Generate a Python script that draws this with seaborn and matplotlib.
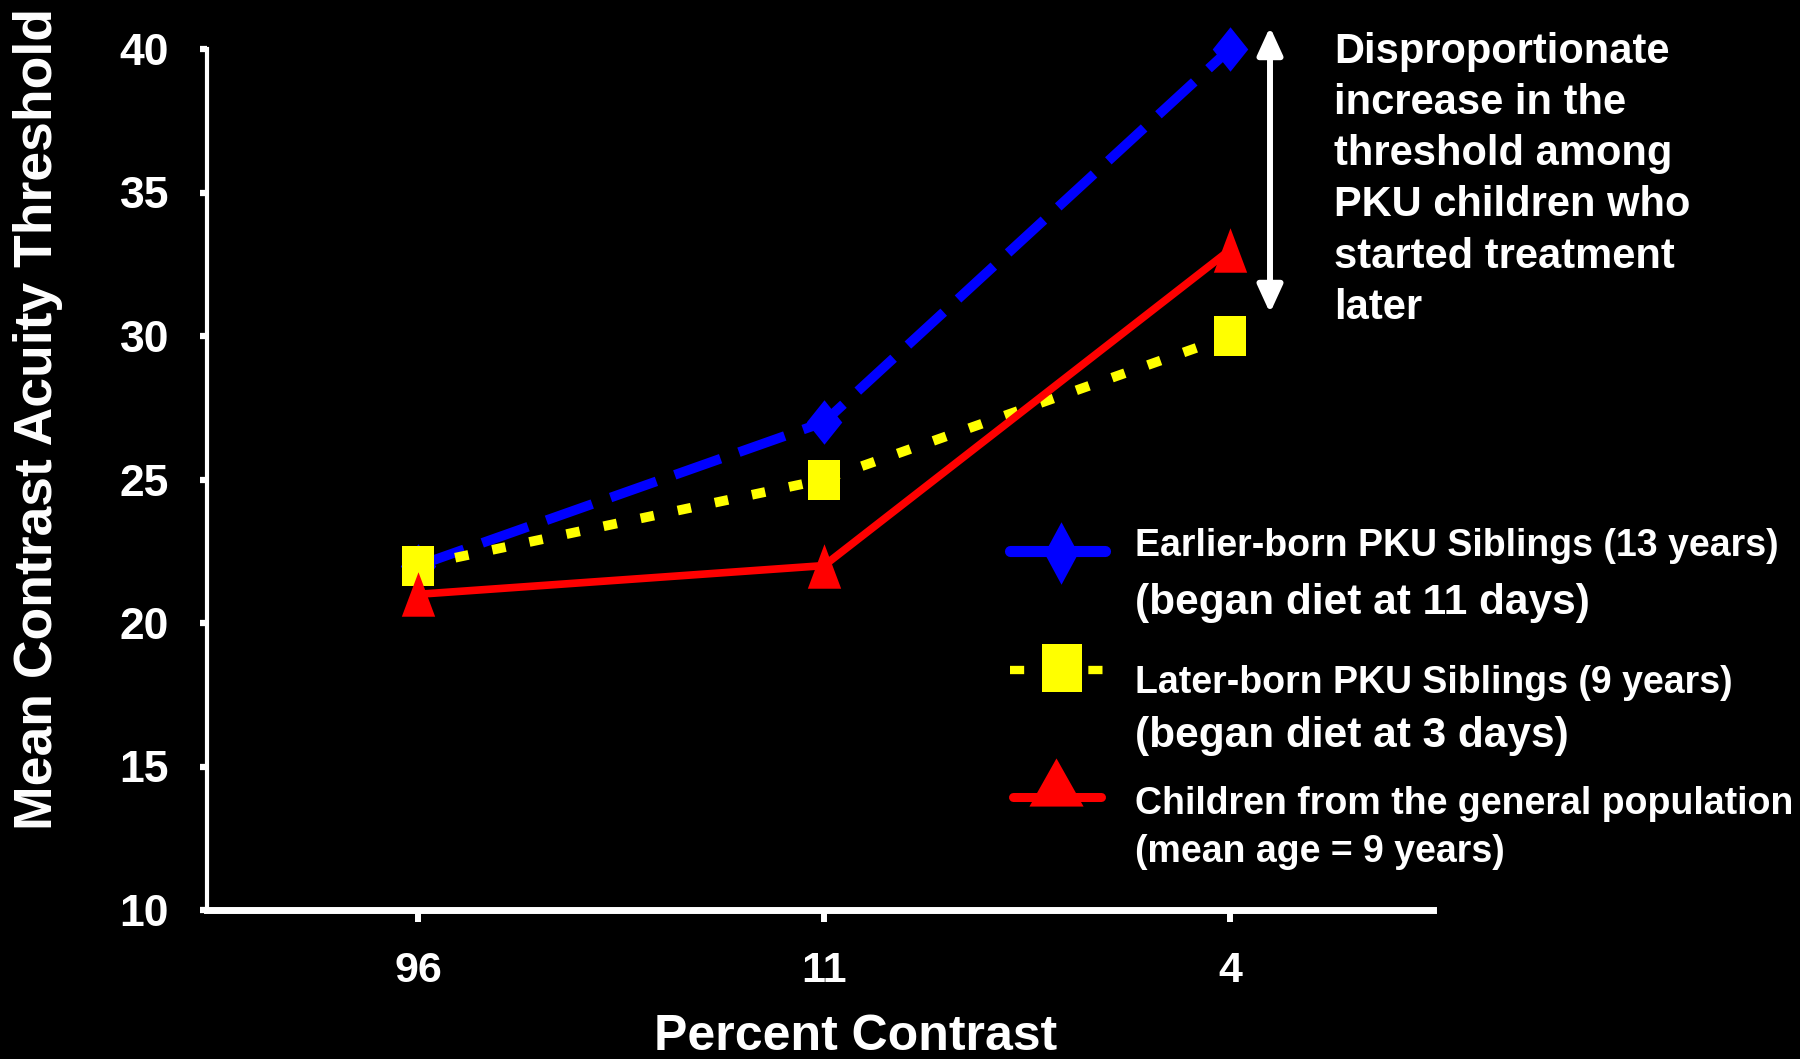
import numpy as np
import pandas as pd
import matplotlib
matplotlib.use("Agg")
import matplotlib.pyplot as plt
from matplotlib.lines import Line2D
from matplotlib.path import Path
import seaborn as sns

# ---- data -------------------------------------------------------------
contrast_labels = ["96", "11", "4"]
earlier_born = [22, 27, 40]   # Earlier-born PKU siblings
later_born = [22, 25, 30]     # Later-born PKU siblings
general_pop = [21, 22, 33]    # Children from the general population

y_ticks = [10, 15, 20, 25, 30, 35, 40]

legend_first = [
    "Earlier-born PKU Siblings (13 years)",
    "Later-born PKU Siblings (9 years)",
    "Children from the general population",
]
legend_second = [
    "(began diet at 11 days)",
    "(began diet at 3 days)",
    "(mean age = 9 years)",
]
note = ("Disproportionate\nincrease in the\nthreshold among\n"
        "PKU children who\nstarted treatment\nlater")

BLUE, YELLOW, RED = "#0000FF", "#FFFF00", "#FF0000"

# ---- style ------------------------------------------------------------
sns.set_theme(style="ticks", rc={
    "figure.facecolor": "black",
    "axes.facecolor": "black",
    "axes.edgecolor": "white",
    "text.color": "white",
    "axes.labelcolor": "white",
    "xtick.color": "white",
    "ytick.color": "white",
})
plt.rcParams["font.family"] = ["Liberation Sans", "DejaVu Sans"]
plt.rcParams["font.weight"] = "bold"
plt.rcParams["axes.labelweight"] = "bold"

W, H = 1800, 1059


def fx(px):
    return px / W


def fy(py):
    return 1 - py / H


def shape(verts):
    return Path(verts + [verts[0]], closed=True)


diamond = shape([(0, 1), (0.8, 0), (0, -1), (-0.8, 0)])
rect = shape([(-0.8, -1), (0.8, -1), (0.8, 1), (-0.8, 1)])
tri = shape([(0, 1), (0.75, -1), (-0.75, -1)])

fig = plt.figure(figsize=(18, 10.59), dpi=100)
ax = fig.add_axes([fx(207), fy(910), (1433 - 207) / W, (910 - 49) / H])

x = np.arange(len(contrast_labels))
frame = pd.DataFrame({
    "contrast": x,
    "earlier": earlier_born,
    "later": later_born,
    "general": general_pop,
})

sns.lineplot(data=frame, x="contrast", y="earlier", ax=ax, errorbar=None,
             color=BLUE, linewidth=7, linestyle=(0, (5, 2)),
             marker=diamond, markersize=32, markeredgewidth=0,
             clip_on=False, zorder=3)
sns.lineplot(data=frame, x="contrast", y="later", ax=ax, errorbar=None,
             color=YELLOW, linewidth=7, linestyle=(0, (1.4, 2.5)),
             marker=rect, markersize=29, markeredgewidth=0,
             clip_on=False, zorder=4)
sns.lineplot(data=frame, x="contrast", y="general", ax=ax, errorbar=None,
             color=RED, linewidth=5.5, linestyle="-",
             marker=tri, markersize=32, markeredgewidth=0,
             clip_on=False, zorder=5)

# ---- axes -------------------------------------------------------------
ax.set_xlim(-0.52, 2.5)
ax.set_ylim(10, 40)
ax.set_xticks(x, contrast_labels)
ax.set_yticks(y_ticks)
ax.tick_params(axis="y", direction="out", length=5.3, width=4.5, pad=22,
               labelsize=32)
ax.tick_params(axis="x", direction="out", length=8.6, width=4.3, pad=21,
               labelsize=31)
for side in ("top", "right"):
    ax.spines[side].set_visible(False)
ax.spines["left"].set_linewidth(3)
ax.spines["bottom"].set_linewidth(5)
ax.spines["left"].set_color("white")
ax.spines["bottom"].set_color("white")

ax.set_xlabel("Percent Contrast", fontsize=36, fontweight="bold")
ax.xaxis.set_label_coords(0.529, -0.121)
ax.set_ylabel("Mean Contrast Acuity Threshold", fontsize=38.5,
              fontweight="bold")
ax.yaxis.set_label_coords(-0.1378, 0.57)
ax.yaxis.label.set_va("center")

# ---- legend (handles + two-size labels) -------------------------------
def handle_line(x0, x1, y, **kw):
    fig.add_artist(Line2D([fx(x0), fx(x1)], [fy(y), fy(y)],
                          transform=fig.transFigure, **kw))


def handle_marker(xc, yc, **kw):
    fig.add_artist(Line2D([fx(xc)], [fy(yc)], transform=fig.transFigure,
                          linestyle="none", markeredgewidth=0, **kw))


handle_line(1010, 1105, 551, color=BLUE, linewidth=8)
handle_marker(1061, 553, color=BLUE, markersize=45,
              marker=shape([(0, 1), (0.54, 0), (0, -1), (-0.54, 0)]))

handle_line(1010, 1103, 670, color=YELLOW, linewidth=6,
            linestyle=(0, (1.7, 7.7)))
handle_marker(1062, 668, color=YELLOW, markersize=35,
              marker=shape([(-0.84, -1), (0.84, -1), (0.84, 1), (-0.84, 1)]))

handle_line(1013, 1101, 797, color=RED, linewidth=6.5)
handle_marker(1056, 782, color=RED, markersize=39,
              marker=shape([(0, 1), (1.125, -1), (-1.125, -1)]))

first_y = [546, 683, 804]
second_y = [603, 736, 852]
second_size = [30.5, 30.5, 27]
for txt, yy in zip(legend_first, first_y):
    fig.text(fx(1135), fy(yy), txt, fontsize=27, fontweight="bold",
             color="white", ha="left", va="center")
for txt, yy, fs in zip(legend_second, second_y, second_size):
    fig.text(fx(1135), fy(yy), txt, fontsize=fs, fontweight="bold",
             color="white", ha="left", va="center")

# ---- note with double-headed arrow ------------------------------------
ax.annotate("", xy=(1270, H - 27), xycoords="figure pixels",
            xytext=(1270, H - 313), textcoords="figure pixels",
            annotation_clip=False,
            arrowprops=dict(arrowstyle="<|-|>,head_length=0.83,head_width=0.38",
                            mutation_scale=20, lw=4.3, color="white",
                            shrinkA=0, shrinkB=0))
fig.text(fx(1334), fy(32), note, fontsize=30, fontweight="bold",
         color="white", ha="left", va="top", linespacing=1.36)

fig.savefig("out.png", dpi=100, facecolor="black")
